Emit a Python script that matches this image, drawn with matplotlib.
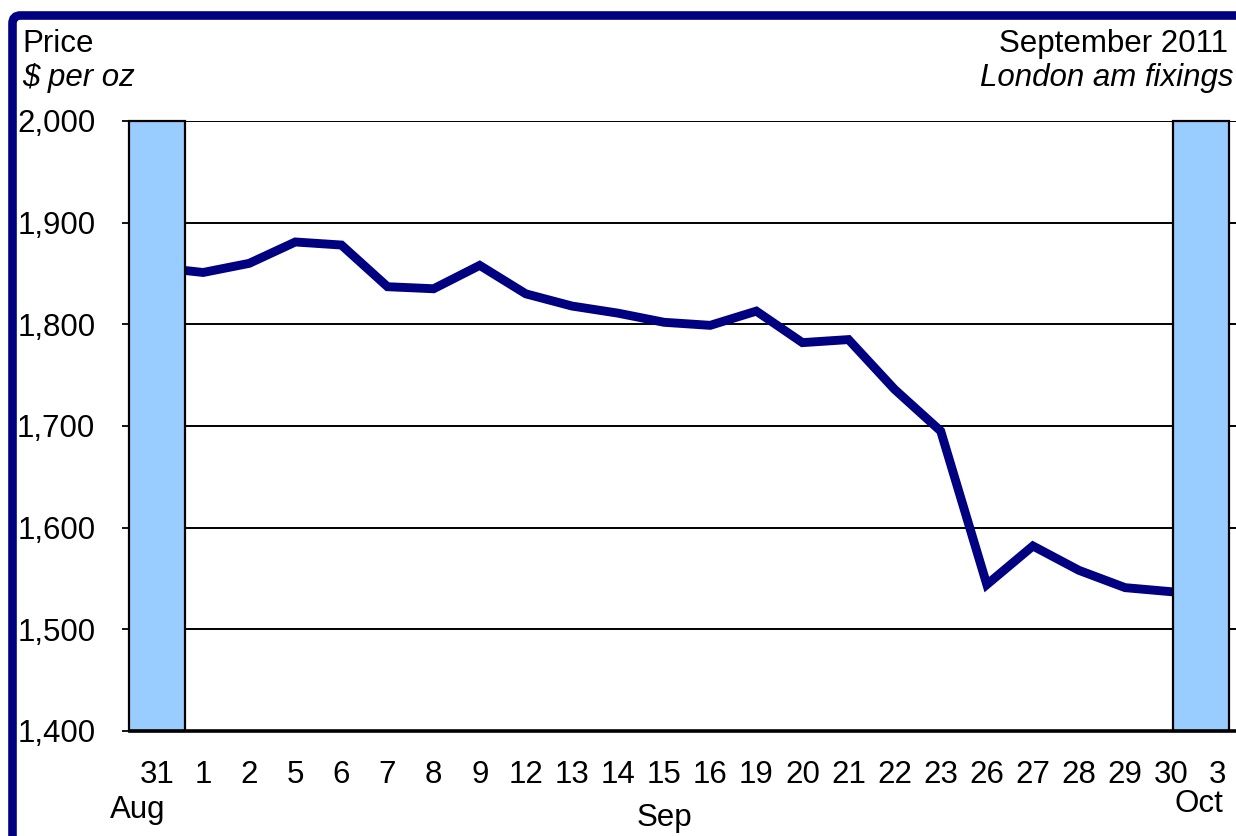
import numpy as np
import matplotlib
matplotlib.use("Agg")
import matplotlib.pyplot as plt
from matplotlib.patches import FancyBboxPatch

# ---------------- data ----------------
day_labels = ['31', '1', '2', '5', '6', '7', '8', '9', '12', '13', '14', '15',
              '16', '19', '20', '21', '22', '23', '26', '27', '28', '29', '30', '3']
prices = [1856, 1851, 1860, 1881, 1878, 1837, 1835, 1858, 1830, 1818, 1811, 1802,
          1799, 1813, 1782, 1785, 1736, 1695, 1544, 1582, 1558, 1541, 1537, np.nan]
month_labels = ['Aug', 'Sep', 'Oct']
shaded_days = ['31', '3']          # days outside September (first and last category)
shade_top = 2000
y_ticks = [1400, 1500, 1600, 1700, 1800, 1900, 2000]
y_tick_labels = ['1,400', '1,500', '1,600', '1,700', '1,800', '1,900', '2,000']

# ---------------- style / layout ----------------
W, H, DPI = 1236, 836, 100
FONT = ['Liberation Sans', 'DejaVu Sans']
FS = 22.5
NAVY = '#000080'
SHADE = '#99CCFF'
shade_width = 1.21
shade_shift = {'31': 0.0, '3': -0.35}
month_pos = {'Aug': (-0.41, 818), 'Sep': (11.0, 826), 'Oct': (22.6, 812)}  # (category units, pixel baseline)

plt.rcParams['font.family'] = FONT
fig = plt.figure(figsize=(W / DPI, H / DPI), dpi=DPI)

ax_left, ax_right, ax_top, ax_bottom = 130, 1245, 121, 731
ax = fig.add_axes([ax_left / W, 1 - ax_bottom / H, (ax_right - ax_left) / W,
                   (ax_bottom - ax_top) / H])

x = np.arange(len(day_labels))
ax.set_xlim(-0.586, -0.586 + (ax_right - ax_left) / 46.1)
ax.set_ylim(y_ticks[0], y_ticks[-1])

# gridlines
for yv in y_ticks[1:]:
    ax.axhline(yv, color='black', lw=1.4, zorder=1)

# price line
ax.plot(x, prices, color=NAVY, lw=6.4, solid_joinstyle='miter', zorder=3)

# shaded bars
for d in shaded_days:
    i = day_labels.index(d)
    bars = ax.bar(i + shade_shift[d], shade_top - y_ticks[0], bottom=y_ticks[0],
                  width=shade_width, color=SHADE, edgecolor='black', linewidth=1.6, zorder=4)
    for b in bars:
        b.set_clip_on(False)

# axes styling
for s in ['top', 'right', 'left']:
    ax.spines[s].set_visible(False)
ax.spines['bottom'].set_linewidth(2.6)
ax.spines['bottom'].set_zorder(6)

ax.set_yticks(y_ticks)
ax.set_yticklabels(y_tick_labels, fontsize=FS)
ax.tick_params(axis='y', length=6, width=1.3, direction='out', pad=19, color='black')
ax.set_xticks(x)
ax.set_xticklabels(day_labels, fontsize=FS)
ax.tick_params(axis='x', length=0, pad=21)

# month labels
for m in month_labels:
    xp, yb = month_pos[m]
    ax.text(xp, -(yb - ax_bottom) / (ax_bottom - ax_top), m, fontsize=FS,
            ha='center', va='baseline',
            transform=ax.get_xaxis_transform(), clip_on=False)

# header texts
fig.text(22 / W, 1 - 52 / H, 'Price', fontsize=FS, ha='left', va='baseline')
fig.text(22 / W, 1 - 86 / H, '\\$ per oz', fontsize=FS, style='italic', ha='left', va='baseline')
fig.text(1228 / W, 1 - 52 / H, 'September 2011', fontsize=FS, ha='right', va='baseline')
fig.text(1234 / W, 1 - 86 / H, 'London am fixings', fontsize=FS, style='italic',
         ha='right', va='baseline')

# navy frame (cropped at right and bottom)
frame = FancyBboxPatch((0.125, -1.0), 14.0, (H - 15.5) / DPI + 1.0,
                       boxstyle='round,pad=0,rounding_size=0.08',
                       transform=fig.dpi_scale_trans, facecolor='none',
                       edgecolor=NAVY, linewidth=6.2, zorder=10)
fig.add_artist(frame)

fig.savefig('out.png', dpi=DPI)
